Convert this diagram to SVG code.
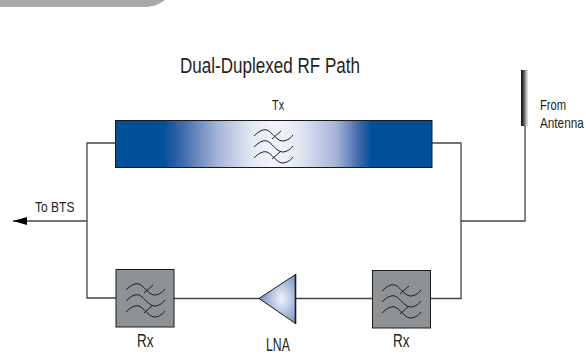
<svg xmlns="http://www.w3.org/2000/svg" width="586" height="358" viewBox="0 0 586 358">
<style>
text{font-family:"Liberation Sans",Arial,sans-serif;fill:#231f20}
.l{font-size:14px}
.m{font-size:18px}
.c{fill:none;stroke:#444;stroke-width:1.3}
.b{stroke:#1a1a1a;stroke-width:1}
.w{fill:none;stroke:#1a1a1a;stroke-width:1}
.f{fill:#8e9294}
</style>
<defs>
<linearGradient id="tx" x1="0" x2="1" y1="0" y2="0">
<stop offset="0" stop-color="#00509b"/><stop offset=".15" stop-color="#00509b"/><stop offset=".21" stop-color="#3e68aa"/><stop offset=".32" stop-color="#a3b2d6"/><stop offset=".43" stop-color="#e4e8f4"/><stop offset=".5" stop-color="#f2f4fa"/><stop offset=".58" stop-color="#e4e8f4"/><stop offset=".7" stop-color="#a3b2d6"/><stop offset=".77" stop-color="#3e68aa"/><stop offset=".81" stop-color="#00509b"/><stop offset="1" stop-color="#00509b"/>
</linearGradient>
<radialGradient id="lna" cx=".62" cy=".5" r=".62">
<stop offset="0" stop-color="#f2f4fa"/><stop offset="1" stop-color="#6f8cc6"/>
</radialGradient>
<linearGradient id="ant" x1="0" x2="1" y1="0" y2="0">
<stop offset="0" stop-color="#111"/><stop offset=".35" stop-color="#444"/><stop offset=".7" stop-color="#aaa"/><stop offset="1" stop-color="#eee"/>
</linearGradient>
<g id="wave">
<path class="w" d="M-19-8C-14-13-10-15-6-14C-1-12 3-4 9-3C13-3 17-5 20-9"/>
<path class="w" d="M-19 3C-14-2-10-4-6-3C-1-1 3 7 9 8C13 8 17 6 20 2"/>
<path class="w" d="M-19 14C-14 9-10 7-6 8C-1 10 3 18 9 19C13 19 17 17 20 13"/>
<path class="w" d="M-1-5L8-13M-1 15L8 7"/>
</g>
<marker id="arr" markerUnits="userSpaceOnUse" markerWidth="14" markerHeight="8" refX="14" refY="4" orient="auto"><path d="M0 0L14 4L0 8Z" fill="#000"/></marker>
</defs>
<path id="tab" d="M0 0H165C158 5 152 7 144 7H0Z" fill="#a7a9ac"/>
<g id="connectors">
<path class="c" d="M115.500 143H87V298H116"/>
<path class="c" d="M87 221H13" marker-end="url(#arr)"/>
<path class="c" d="M174 298.500H259"/>
<path class="c" d="M296 298.500H372"/>
<path class="c" d="M430 298.500H461V143H432"/>
<path class="c" d="M461 221H525V126"/>
</g>
<g id="tx-filter">
<rect class="b" x="115.500" y="120.500" width="316.500" height="47" fill="url(#tx)"/>
<use href="#wave" x="273" y="144"/>
<text class="l" transform="translate(272 110) scale(.78 1)">Tx</text>
</g>
<g id="rx-left">
<rect class="b f" x="116" y="269.500" width="58" height="57.500"/>
<use href="#wave" x="145" y="298"/>
<text class="m" transform="translate(137 347) scale(.75 1)">Rx</text>
</g>
<g id="lna-node">
<path class="b" d="M259 298.500L295.500 274.500V323.500Z" fill="url(#lna)"/>
<path d="M295.500 274V324" stroke="#1a1a1a" stroke-width="1.6"/>
<text class="m" transform="translate(266 351) scale(.68 1)">LNA</text>
</g>
<g id="rx-right">
<rect class="b f" x="372.500" y="270.500" width="58" height="57.500"/>
<use href="#wave" x="401" y="299"/>
<text class="m" transform="translate(393 347) scale(.75 1)">Rx</text>
</g>
<g id="antenna">
<rect x="521" y="70" width="7" height="56" fill="url(#ant)"/>
<text class="l" transform="translate(540 110) scale(.8 1)">From</text>
<text class="l" transform="translate(540 128) scale(.84 1)">Antenna</text>
</g>
<text id="title" transform="translate(180 73) scale(.775 1)" font-size="22">Dual-Duplexed RF Path</text>
<text id="to-bts" class="l" transform="translate(35 212) scale(.86 1)">To BTS</text>
</svg>
